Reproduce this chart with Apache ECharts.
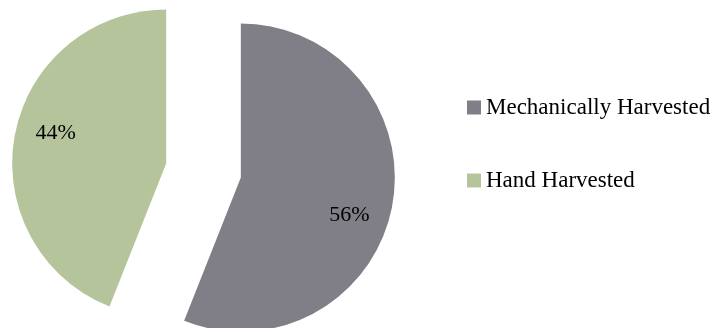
<!DOCTYPE html>
<html>
<head>
<meta charset="utf-8">
<script src="https://cdn.jsdelivr.net/npm/echarts@6/dist/echarts.min.js"></script>
<style>
html,body{margin:0;padding:0;background:#fff;}
#chart{width:711px;height:328px;}
</style>
</head>
<body>
<div id="chart"></div>
<script>
var categories = ['Mechanically Harvested', 'Hand Harvested'];
var values = [56, 44];
var colors = ['#807f87', '#b6c49c'];
var labelShifts = [[30, 23], [-32, -15]];

var chart = echarts.init(document.getElementById('chart'), null, {renderer: 'canvas'});
var data = categories.map(function (c, i) {
  return {
    name: c,
    value: values[i],
    selected: true,
    itemStyle: {color: colors[i]}
  };
});
chart.setOption({
  animation: false,
  legend: {
    orient: 'vertical',
    left: 462,
    top: 91,
    itemWidth: 14,
    itemHeight: 14,
    itemGap: 50,
    icon: 'rect',
    selectedMode: false,
    data: categories,
    textStyle: {fontFamily: 'Liberation Serif', fontSize: 23, color: '#000'}
  },
  series: [{
    type: 'pie',
    center: [203.5, 170.5],
    radius: 154,
    startAngle: 90,
    clockwise: true,
    selectedMode: 'multiple',
    selectedOffset: 38,
    emphasis: {disabled: true},
    label: {
      show: true,
      position: 'inside',
      formatter: '{c}%',
      fontFamily: 'Liberation Serif',
      fontSize: 22,
      color: '#000'
    },
    labelLayout: function (params) {
      var s = labelShifts[params.dataIndex];
      return {dx: s[0], dy: s[1]};
    },
    labelLine: {show: false},
    data: data
  }]
});
</script>
</body>
</html>
